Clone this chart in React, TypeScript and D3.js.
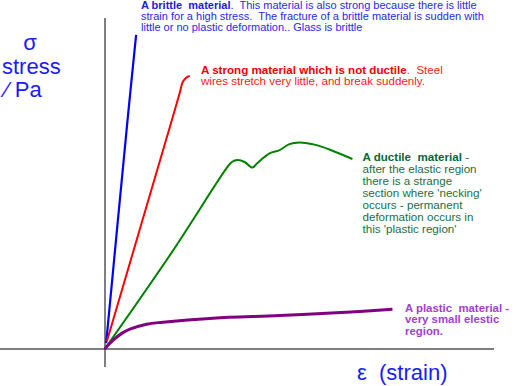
import React from 'react';
import * as d3 from 'd3';

// curve points, [strain, stress] in arbitrary units (0..100)
const brittle: [number, number][] = [[0.3, 1.8], [5.8, 69.2], [8.0, 94.9]];
const strong: [number, number][] = [[0.5, 2.4], [17.2, 69.2], [19.2, 77.3], [20.0, 80.7], [20.8, 81.9], [21.8, 82.5]];
const ductile: [number, number][] = [
    [0.3, 0.6], [17.0, 28.9], [31.3, 54.7], [32.6, 56.5], [34.1, 57.1], [35.9, 56.5], [37.9, 54.8],
    [39.2, 56.2], [42.3, 59.1], [44.9, 60.1], [47.4, 61.9], [50.0, 62.4], [54.4, 61.6], [58.5, 59.9], [63.6, 57.4],
];
const plastic: [number, number][] = [
    [0, 0], [0.3, 0.5], [2.1, 2.7], [4.4, 4.8], [6.4, 6.0], [10.7, 7.5], [14.9, 8.1],
    [27.8, 9.3], [44.9, 10.1], [62.0, 11.1], [73.9, 12.0],
];

const brittleText = [
    ["A brittle  material", ".  This material is also strong because there is little"],
    ["", "strain for a high stress.  The fracture of a brittle material is sudden with"],
    ["", "little or no plastic deformation.. Glass is brittle"],
];
const strongText = [
    ["A strong material which is not ductile", ".  Steel"],
    ["", "wires stretch very little, and break suddenly."],
];
const ductileText = [
    ["A ductile  material", " -"],
    ["", "after the elastic region"],
    ["", "there is a strange"],
    ["", "section where 'necking'"],
    ["", "occurs - permanent"],
    ["", "deformation occurs in"],
    ["", "this 'plastic region'"],
];
const plasticText = [
    ["A plastic  material -", ""],
    ["very small elestic", ""],
    ["region.", ""],
];

const font = "'Liberation Sans', Arial, sans-serif";

function Block({ lines, x, y, lh, size, color, boldColor, allBold }: any) {
    return (
        <text x={x} y={y} fontFamily={font} fontSize={size} fill={color} fontWeight={allBold ? 'bold' : 'normal'}
            style={{ whiteSpace: 'pre' }}>
            {lines.map((l: string[], i: number) => (
                <tspan key={i} x={x} y={y + i * lh}>
                    {l[0] && <tspan fontWeight="bold" fill={boldColor}>{l[0]}</tspan>}
                    {l[1]}
                </tspan>
            ))}
        </text>
    );
}

export default function App() {
    const width = 517, height = 386;
    const x = d3.scaleLinear().domain([0, 100]).range([105, 494]);
    const y = d3.scaleLinear().domain([0, 100]).range([349, 18]);
    const line = d3.line<[number, number]>()
        .x(d => x(d[0]))
        .y(d => y(d[1]))
        .curve(d3.curveCatmullRom.alpha(0.5));

    const curves = [
        { data: brittle, color: '#0000ff', w: 2.2 },
        { data: strong, color: '#ff0000', w: 2 },
        { data: ductile, color: '#008000', w: 2 },
        { data: plastic, color: '#800080', w: 3 },
    ];

    return (
        <div style={{ position: 'absolute', left: 0, top: 0 }}>
            <svg width={width} height={height} style={{ display: 'block', background: '#fff' }}>
                <line x1={0} x2={x.range()[1]} y1={y(0)} y2={y(0)} stroke="#000" />
                <line x1={x(0)} x2={x(0)} y1={y.range()[1]} y2={y(0) + 18} stroke="#000" />
                {curves.map((c, i) => (
                    <path key={i} d={line(c.data) || ''} fill="none" stroke={c.color} strokeWidth={c.w} />
                ))}

                <g fontFamily={font} fontSize={22} fill="#1a1aff">
                    <text x={30} y={50} textAnchor="middle">σ</text>
                    <text x={2} y={74}>stress</text>
                    <text x={5} y={97} style={{ whiteSpace: 'pre' }}>⁄ Pa</text>
                    <text x={357} y={380} style={{ whiteSpace: 'pre' }}>ε  (strain)</text>
                </g>

                <Block lines={brittleText} x={141} y={8.5} lh={11} size={11} color="#2828f0" boldColor="#1a1ae0" />
                <Block lines={strongText} x={201} y={73.5} lh={11.7} size={11.6} color="#ff2020" boldColor="#f00000" />
                <Block lines={ductileText} x={362.5} y={160.5} lh={12} size={11.6} color="#17703f" boldColor="#0a6636" />
                <Block lines={plasticText} x={405} y={311.5} lh={11.7} size={11.4} color="#a040d0" boldColor="#a040d0" allBold />
            </svg>
        </div>
    );
}
